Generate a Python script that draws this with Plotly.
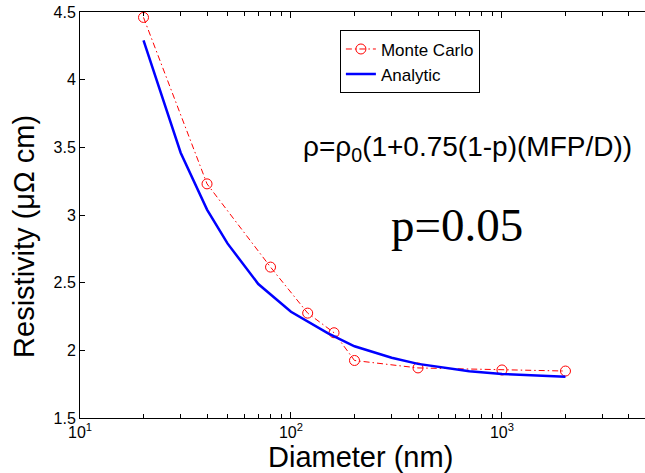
import plotly.graph_objects as go

# Monte Carlo data
mc_diameter = [20, 40, 80, 120, 160, 200, 400, 1000, 2000]
mc_resistivity = [4.46, 3.23, 2.615, 2.275, 2.13, 1.925, 1.87, 1.855, 1.847]

# Analytic curve
an_diameter = [20, 30, 40, 50, 70, 100, 150, 200, 300, 400, 700, 1000, 2000]
an_resistivity = [4.29, 3.46, 3.04, 2.79, 2.49, 2.285, 2.125, 2.03, 1.945, 1.9, 1.845, 1.825, 1.805]

x_major = [10, 100, 1000]
x_minor = [20, 30, 40, 50, 60, 70, 80, 90, 200, 300, 400, 500, 600, 700, 800, 900,
           2000, 3000, 4000]
y_ticks = [1.5, 2, 2.5, 3, 3.5, 4, 4.5]
y_ticklabels = ["1.5", "2", "2.5", "3", "3.5", "4", "4.5"]

FONT = "Liberation Sans, Arial, sans-serif"

fig = go.Figure()
fig.add_trace(go.Scatter(
    x=mc_diameter, y=mc_resistivity, name="Monte Carlo",
    mode="lines+markers",
    line=dict(color="#ff0000", width=1, dash="6px,3px,1.5px,3px"),
    marker=dict(symbol="circle-open", size=10, color="#ff0000", line=dict(width=1)),
))
fig.add_trace(go.Scatter(
    x=an_diameter, y=an_resistivity, name="Analytic",
    mode="lines",
    line=dict(color="#0000ff", width=2.5),
))

fig.update_layout(
    width=645, height=473, autosize=False,
    margin=dict(l=80, r=0, t=12, b=55),
    paper_bgcolor="white", plot_bgcolor="white",
    font=dict(family=FONT, color="black", size=16),
    showlegend=True,
    legend=dict(
        x=0.46, y=0.877, xanchor="left", yanchor="middle",
        bordercolor="black", borderwidth=1, bgcolor="white",
        font=dict(family=FONT, size=17, color="black"),
        tracegroupgap=0, itemwidth=30,
    ),
    xaxis=dict(
        type="log", range=[1, 3.678], automargin=False,
        tickvals=x_major, ticktext=["10<sup>1</sup>", "10<sup>2</sup>", "10<sup>3</sup>"],
        ticks="inside", ticklen=6, tickcolor="black", ticklabeloverflow="allow",
        minor=dict(tickvals=x_minor, ticks="inside", ticklen=4, tickcolor="black", showgrid=False),
        showline=True, linecolor="black", linewidth=1, mirror="ticks",
        showgrid=False, zeroline=False,
        tickfont=dict(family=FONT, size=16),
    ),
    yaxis=dict(
        range=[1.5, 4.5], automargin=False,
        tickvals=y_ticks, ticktext=y_ticklabels,
        ticks="inside", ticklen=5, tickcolor="black", ticklabeloverflow="allow",
        showline=True, linecolor="black", linewidth=1, mirror=False,
        showgrid=False, zeroline=False,
        tickfont=dict(family=FONT, size=16),
    ),
)

# axis titles
fig.add_annotation(
    xref="paper", yref="paper", x=0.497, y=-0.096,
    text="Diameter (nm)", showarrow=False,
    font=dict(family=FONT, size=29, color="black"),
    xanchor="center", yanchor="middle",
)
fig.add_annotation(
    xref="paper", yref="paper", x=-0.0991, y=0.446,
    text="Resistivity (\u03bc\u03a9 cm)", showarrow=False, textangle=-90,
    font=dict(family=FONT, size=29, color="black"),
    xanchor="center", yanchor="middle",
)

fig.add_annotation(
    xref="paper", yref="paper", x=0.685, y=0.665,
    text="\u03c1=\u03c1<sub>0</sub>(1+0.75(1-p)(MFP/D))",
    showarrow=False, font=dict(family=FONT, size=28, color="black"),
    xanchor="center", yanchor="middle",
)
fig.add_annotation(
    xref="paper", yref="paper", x=0.667, y=0.475,
    text="p=0.05",
    showarrow=False, font=dict(family="Liberation Serif, Times New Roman, serif", size=47, color="black"),
    xanchor="center", yanchor="middle",
)

fig.write_html("out.html", config={"displayModeBar": False},
               post_script="document.body.style.margin='0';")
